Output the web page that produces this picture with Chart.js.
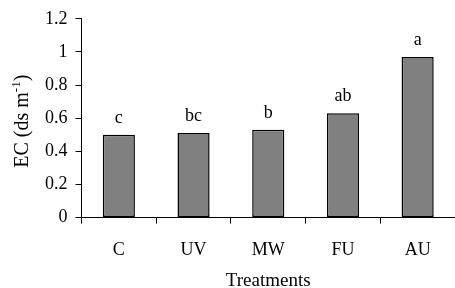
<!DOCTYPE html>
<html>
<head>
<meta charset="utf-8">
<script src="https://cdn.jsdelivr.net/npm/chart.js@4/dist/chart.umd.min.js"></script>
<style>
  html, body { margin: 0; padding: 0; background: #fff; }
  #wrap { width: 455px; height: 288px; }
</style>
</head>
<body>
<div id="wrap"><canvas id="ecChart"></canvas></div>
<script>
// data
const treatments = ['C', 'UV', 'MW', 'FU', 'AU'];
const ecValues = [0.50, 0.51, 0.53, 0.63, 0.97];
const letters = ['c', 'bc', 'b', 'ab', 'a'];

const serif = '"Liberation Serif", "Times New Roman", serif';

// significance letters above bars + y title with superscript
const annotate = {
    id: 'annotate',
    afterDatasetsDraw(chart) {
        const ctx = chart.ctx;
        const meta = chart.getDatasetMeta(0);
        ctx.save();
        ctx.fillStyle = '#000';
        ctx.font = '18px ' + serif;
        ctx.textAlign = 'center';
        ctx.textBaseline = 'alphabetic';
        meta.data.forEach((bar, i) => {
            ctx.fillText(letters[i], bar.x, bar.y - 12);
        });

        // y axis title: EC (ds m^-1)
        const area = chart.chartArea;
        const cy = (area.top + area.bottom) / 2 + 3;
        ctx.translate(28, cy);
        ctx.rotate(-Math.PI / 2);
        ctx.font = '20px ' + serif;
        const main = 'EC (ds m';
        const sup = '-1';
        const close = ')';
        const wMain = ctx.measureText(main).width;
        ctx.font = '13px ' + serif;
        const wSup = ctx.measureText(sup).width;
        ctx.font = '20px ' + serif;
        const wClose = ctx.measureText(close).width;
        let x = -(wMain + wSup + wClose) / 2;
        ctx.textAlign = 'left';
        ctx.fillText(main, x, 0);
        x += wMain;
        ctx.font = '13px ' + serif;
        ctx.fillText(sup, x, -8);
        x += wSup;
        ctx.font = '20px ' + serif;
        ctx.fillText(close, x, 0);
        ctx.restore();
    }
};

new Chart(document.getElementById('ecChart'), {
    type: 'bar',
    data: {
        labels: treatments,
        datasets: [{
            data: ecValues,
            backgroundColor: '#808080',
            borderColor: '#000',
            borderWidth: 1.5,
            borderSkipped: false,
            categoryPercentage: 1,
            barPercentage: 0.43
        }]
    },
    options: {
        responsive: true,
        maintainAspectRatio: false,
        animation: false,
        layout: { padding: { left: 37, right: 0, top: 5, bottom: -4 } },
        plugins: {
            legend: { display: false },
            tooltip: { enabled: false }
        },
        scales: {
            x: {
                grid: {
                    offset: true,
                    drawOnChartArea: false,
                    tickLength: 6,
                    color: '#000'
                },
                border: { color: '#000', width: 1 },
                ticks: { color: '#000', font: { family: serif, size: 18 }, padding: 16 },
                title: {
                    display: true,
                    text: 'Treatments',
                    color: '#000',
                    font: { family: serif, size: 19 },
                    padding: { top: -8, bottom: 0 }
                }
            },
            y: {
                min: 0,
                max: 1.2,
                ticks: {
                    stepSize: 0.2,
                    color: '#000',
                    font: { family: serif, size: 18 },
                    padding: 8,
                    callback: value => String(+value.toFixed(1))
                },
                grid: {
                    drawOnChartArea: false,
                    tickLength: 6,
                    color: '#000'
                },
                border: { color: '#000', width: 1 }
            }
        }
    },
    plugins: [annotate]
});
</script>
</body>
</html>
